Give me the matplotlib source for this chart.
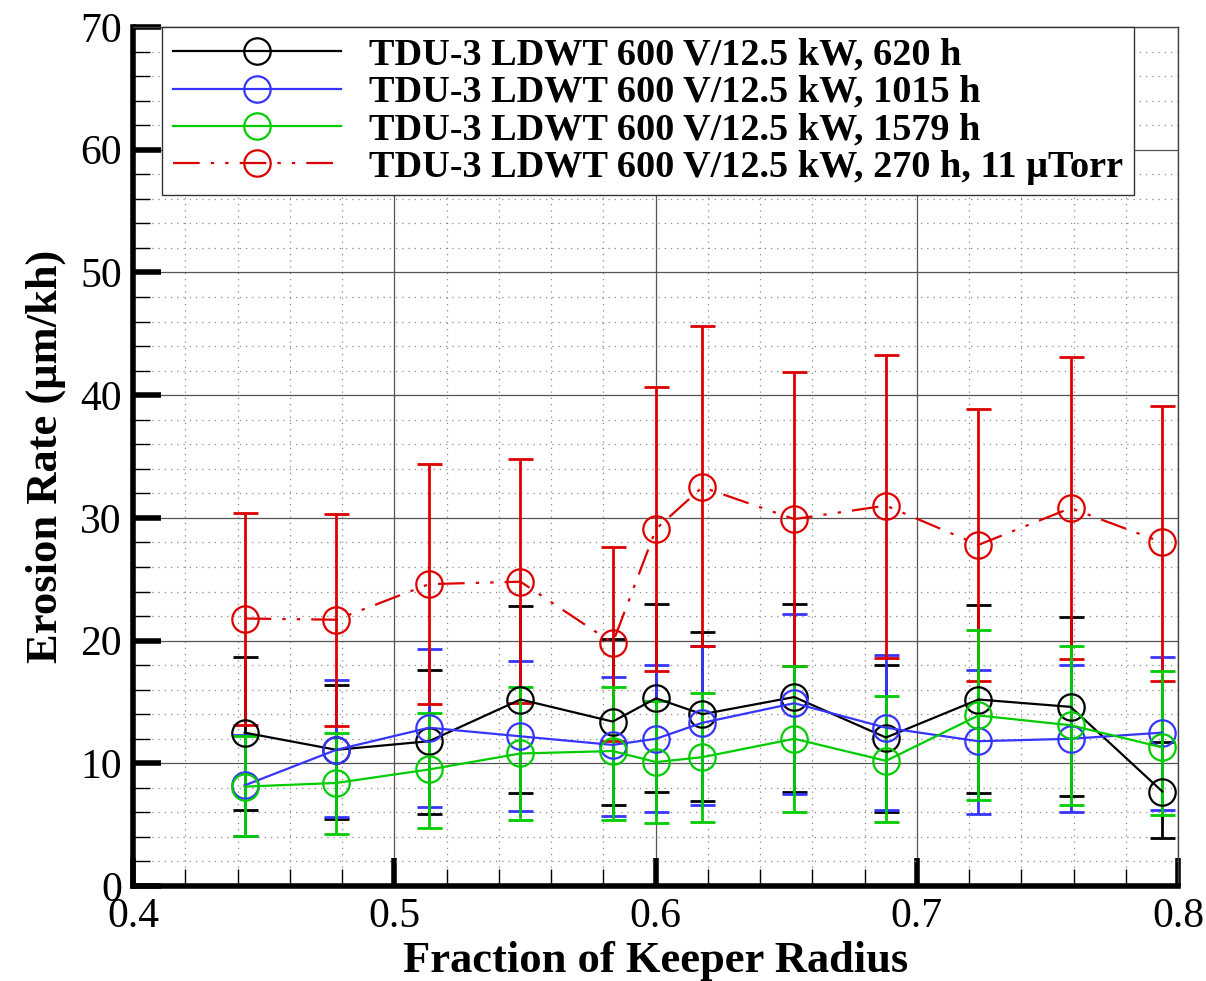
import numpy as np
import matplotlib
matplotlib.use('Agg')
import matplotlib.pyplot as plt
from matplotlib.ticker import MultipleLocator

plt.rcParams['font.family'] = ['Liberation Serif', 'DejaVu Serif']

# fraction of keeper radius (same for all series)
radius = [0.4427, 0.4778, 0.5133, 0.5483, 0.5836, 0.6002,
          0.6179, 0.6531, 0.6882, 0.7236, 0.7589, 0.7940]

# 620 h
rate_620 = [12.5, 11.1, 11.8, 15.2, 13.4, 15.3, 14.0, 15.4, 12.1, 15.2, 14.6, 7.7]
hi_620 = [18.7, 16.4, 17.6, 22.8, 20.1, 23.0, 20.7, 23.0, 18.0, 22.9, 21.9, 11.7]
lo_620 = [6.2, 5.5, 5.9, 7.6, 6.6, 7.7, 6.9, 7.7, 6.0, 7.6, 7.3, 3.9]

# 1015 h
rate_1015 = [8.2, 11.1, 12.9, 12.2, 11.5, 12.0, 13.3, 14.9, 12.9, 11.8, 12.0, 12.5]
hi_1015 = [12.3, 16.8, 19.3, 18.3, 17.0, 18.0, 19.6, 22.2, 18.8, 17.6, 18.0, 18.7]
lo_1015 = [4.1, 5.6, 6.4, 6.1, 5.7, 6.0, 6.6, 7.5, 6.2, 5.9, 6.0, 6.2]

# 1579 h
rate_1579 = [8.1, 8.4, 9.5, 10.8, 11.0, 10.1, 10.5, 12.0, 10.2, 13.9, 13.1, 11.3]
hi_1579 = [12.2, 12.5, 14.1, 16.2, 16.2, 15.1, 15.7, 17.9, 15.5, 20.9, 19.6, 17.5]
lo_1579 = [4.1, 4.2, 4.7, 5.4, 5.4, 5.1, 5.2, 6.0, 5.2, 7.0, 6.6, 5.8]

# 270 h, 11 uTorr
rate_270 = [21.8, 21.7, 24.6, 24.8, 19.8, 29.1, 32.5, 29.9, 31.0, 27.8, 30.8, 28.0]
hi_270 = [30.4, 30.3, 34.4, 34.8, 27.6, 40.7, 45.6, 41.9, 43.3, 38.9, 43.1, 39.1]
lo_270 = [13.1, 13.0, 14.8, 14.9, 11.8, 17.5, 19.6, 17.9, 18.6, 16.7, 18.5, 16.7]

labels = ['TDU-3 LDWT 600 V/12.5 kW, 620 h',
          'TDU-3 LDWT 600 V/12.5 kW, 1015 h',
          'TDU-3 LDWT 600 V/12.5 kW, 1579 h',
          'TDU-3 LDWT 600 V/12.5 kW, 270 h, 11 \u03bcTorr']


def AddSeries(ax, y, hi, lo, color, label, dashes=None):
    y = np.array(y)
    err = [y - np.array(lo), np.array(hi) - y]
    ax.errorbar(radius, y, yerr=err, fmt='none', ecolor=color,
                elinewidth=2.0, capsize=9, capthick=2.0, zorder=3)
    line, = ax.plot(radius, y, color=color, lw=1.6, marker='o', ms=19,
                    mfc='none', mec=color, mew=1.6, label=label, zorder=4)
    if dashes is not None:
        line.set_dashes(dashes)
    return line


def MakePlot():
    fig = plt.figure(figsize=(12.06, 9.81), dpi=100)
    ax = fig.add_axes([0.1103, 0.0968, 0.8665, 0.8757])

    h1 = AddSeries(ax, rate_620, hi_620, lo_620, 'black', labels[0])
    h2 = AddSeries(ax, rate_1015, hi_1015, lo_1015, '#3535ff', labels[1])
    h4 = AddSeries(ax, rate_270, hi_270, lo_270, '#dd0000', labels[3],
                   dashes=(12, 5, 1.5, 5, 1.5, 5))
    h3 = AddSeries(ax, rate_1579, hi_1579, lo_1579, '#00cc00', labels[2])

    ax.set_xlim(0.4, 0.8)
    ax.set_ylim(0, 70)
    ax.xaxis.set_major_locator(MultipleLocator(0.1))
    ax.xaxis.set_minor_locator(MultipleLocator(0.02))
    ax.yaxis.set_major_locator(MultipleLocator(10))
    ax.yaxis.set_minor_locator(MultipleLocator(2))
    ax.set_xticks(np.arange(0.4, 0.81, 0.1))
    ax.set_xticklabels(['0.4', '0.5', '0.6', '0.7', '0.8'])

    ax.grid(which='major', color='#555555', lw=0.9)
    ax.grid(which='minor', color='#888888', lw=0.9, ls=(0, (1, 4)))
    ax.set_axisbelow(True)

    ax.tick_params(which='major', direction='in', length=20, width=4,
                   labelsize=30, pad=8, top=False, right=False)
    ax.tick_params(which='minor', direction='in', length=12, width=1,
                   top=False, right=False)
    for side in ['left', 'bottom']:
        ax.spines[side].set_linewidth(4)
    for side in ['top', 'right']:
        ax.spines[side].set_linewidth(1)
        ax.spines[side].set_color('#444444')

    ax.set_xlabel('Fraction of Keeper Radius', fontsize=32, fontweight='bold',
                  labelpad=4)
    ax.set_ylabel('Erosion Rate (\u03bcm/kh)', fontsize=32, fontweight='bold',
                  labelpad=10)

    leg = ax.legend(handles=[h1, h2, h3, h4], loc='upper left',
                    bbox_to_anchor=(0.0278, 1.0), numpoints=1, handlelength=4.4,
                    handletextpad=0.74, prop={'size': 27.5, 'weight': 'bold'},
                    fancybox=False, framealpha=1, edgecolor='#333333',
                    borderpad=0.28, labelspacing=0.06, borderaxespad=0.0)
    leg.get_frame().set_linewidth(1.0)

    fig.savefig('out.png', dpi=100)


def main():
    MakePlot()

main()
